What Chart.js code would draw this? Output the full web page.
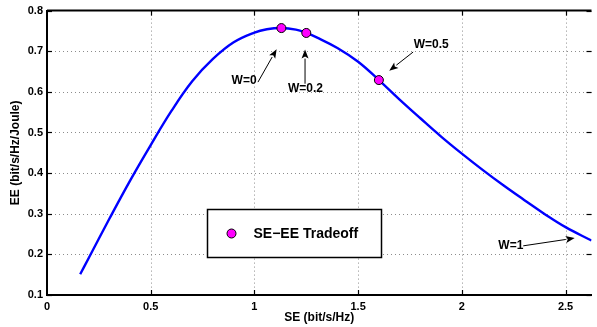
<!DOCTYPE html>
<html>
<head>
<meta charset="utf-8">
<script src="https://cdn.jsdelivr.net/npm/chart.js@4/dist/chart.umd.min.js"></script>
<style>
  html, body { margin: 0; padding: 0; background: #ffffff; }
  #wrap { width: 597px; height: 327px; }
</style>
</head>
<body>
<div id="wrap"><canvas id="c" width="597" height="327"></canvas></div>
<script>
// ---- data ----
const seValues = [0.16, 0.2, 0.3, 0.4, 0.5, 0.6, 0.7, 0.8, 0.9, 1.0, 1.06, 1.13, 1.2, 1.25, 1.3, 1.4, 1.5, 1.6, 1.7, 1.8, 1.9, 2.0, 2.1, 2.2, 2.3, 2.4, 2.5, 2.625];
const eeValues = [0.151, 0.190, 0.287, 0.381, 0.469, 0.553, 0.626, 0.681, 0.722, 0.746, 0.754, 0.757, 0.753, 0.745, 0.734, 0.708, 0.674, 0.629, 0.581, 0.535, 0.490, 0.448, 0.408, 0.370, 0.334, 0.299, 0.267, 0.234];
const tradeoffSE = [1.13, 1.25, 1.6];
const tradeoffEE = [0.757, 0.745, 0.629];
const legendLabel = 'SE\u2212EE Tradeoff';
const xTitle = 'SE (bit/s/Hz)';
const yTitle = 'EE (bit/s/Hz/Joule)';
// annotations (text and arrows, in data units)
const annLabels = ['W=0', 'W=0.2', 'W=0.5', 'W=1'];
const annTextX = [0.950, 1.246, 1.852, 2.236];
const annTextY = [0.627, 0.607, 0.716, 0.222];
const arrowFromX = [1.017, 1.244, 1.765, 2.296];
const arrowFromY = [0.624, 0.620, 0.698, 0.221];
const arrowToX = [1.107, 1.244, 1.650, 2.544];
const arrowToY = [0.705, 0.704, 0.652, 0.240];
// legend box corners (data units)
const legendBoxX = [0.773, 1.609];
const legendBoxY = [0.3117, 0.1943];

const FONT = "'Liberation Sans', Arial, Helvetica, sans-serif";

const curvePts = seValues.map((v, i) => ({ x: v, y: eeValues[i] }));
const tradePts = tradeoffSE.map((v, i) => ({ x: v, y: tradeoffEE[i] }));

function line(ctx, x1, y1, x2, y2) {
  ctx.beginPath(); ctx.moveTo(x1, y1); ctx.lineTo(x2, y2); ctx.stroke();
}

function arrow(ctx, x1, y1, x2, y2) {
  const ang = Math.atan2(y2 - y1, x2 - x1);
  const L = 9, W = 3.5;
  const bx = x2 - L * Math.cos(ang), by = y2 - L * Math.sin(ang);
  ctx.lineWidth = 1;
  line(ctx, x1, y1, bx, by);
  ctx.beginPath();
  ctx.moveTo(x2, y2);
  ctx.lineTo(bx + W * Math.sin(ang), by - W * Math.cos(ang));
  ctx.lineTo(bx + 2 * Math.cos(ang), by + 2 * Math.sin(ang));
  ctx.lineTo(bx - W * Math.sin(ang), by + W * Math.cos(ang));
  ctx.closePath();
  ctx.fill();
}

const matlabPlugin = {
  id: 'matlabLook',
  beforeDatasetsDraw(chart) {
    const { ctx, chartArea: a, scales: { x, y } } = chart;
    ctx.save();
    // dotted grid
    ctx.strokeStyle = '#8c8c8c';
    ctx.lineWidth = 1;
    ctx.setLineDash([1, 3]);
    x.ticks.forEach(t => {
      const px = Math.round(x.getPixelForValue(t.value)) + 0.5;
      if (px <= a.left + 2 || px >= a.right - 1) return;
      line(ctx, px, a.top, px, a.bottom);
    });
    y.ticks.forEach(t => {
      const py = Math.round(y.getPixelForValue(t.value)) + 0.5;
      if (py <= a.top + 2 || py >= a.bottom - 2) return;
      line(ctx, a.left, py, a.right, py);
    });
    ctx.setLineDash([]);
    // inward tick marks
    ctx.strokeStyle = '#000';
    ctx.lineWidth = 1.2;
    x.ticks.forEach(t => {
      const px = Math.round(x.getPixelForValue(t.value)) + 0.5;
      if (px <= a.left + 2) return;
      line(ctx, px, a.bottom, px, a.bottom - 5);
      line(ctx, px, a.top, px, a.top + 5);
    });
    y.ticks.forEach(t => {
      const py = Math.round(y.getPixelForValue(t.value)) + 0.5;
      line(ctx, a.left, py, a.left + 5, py);
      line(ctx, a.right, py, a.right - 5, py);
    });
    // top border
    ctx.lineWidth = 2;
    line(ctx, a.left, a.top, a.right, a.top);
    // axis titles
    ctx.fillStyle = '#000';
    ctx.font = 'bold 12px ' + FONT;
    ctx.textAlign = 'center';
    ctx.textBaseline = 'middle';
    ctx.fillText(xTitle, (a.left + a.right) / 2, 317.5);
    ctx.save();
    ctx.translate(16, (a.top + a.bottom) / 2);
    ctx.rotate(-Math.PI / 2);
    ctx.fillText(yTitle, 0, 0);
    ctx.restore();
    ctx.restore();
  },
  afterDatasetsDraw(chart) {
    const { ctx, scales: { x, y } } = chart;
    ctx.save();
    // annotations
    ctx.fillStyle = '#000';
    ctx.strokeStyle = '#000';
    ctx.font = 'bold 12px ' + FONT;
    ctx.textAlign = 'center';
    ctx.textBaseline = 'middle';
    annLabels.forEach((lab, i) => {
      ctx.fillText(lab, x.getPixelForValue(annTextX[i]), y.getPixelForValue(annTextY[i]));
      arrow(ctx,
        x.getPixelForValue(arrowFromX[i]), y.getPixelForValue(arrowFromY[i]),
        x.getPixelForValue(arrowToX[i]), y.getPixelForValue(arrowToY[i]));
    });
    // legend box
    const lx = Math.round(x.getPixelForValue(legendBoxX[0])) + 0.5;
    const rx = Math.round(x.getPixelForValue(legendBoxX[1])) + 0.5;
    const ty = Math.round(y.getPixelForValue(legendBoxY[0])) + 0.5;
    const by = Math.round(y.getPixelForValue(legendBoxY[1])) + 0.5;
    ctx.fillStyle = '#fff';
    ctx.fillRect(lx, ty, rx - lx, by - ty);
    ctx.lineWidth = 1.5;
    ctx.strokeRect(lx, ty, rx - lx, by - ty);
    const my = (ty + by) / 2;
    ctx.beginPath();
    ctx.arc(lx + 24, my, 4.5, 0, Math.PI * 2);
    ctx.fillStyle = '#ff00ff';
    ctx.fill();
    ctx.lineWidth = 1;
    ctx.stroke();
    ctx.fillStyle = '#000';
    ctx.font = 'bold 14px ' + FONT;
    ctx.textAlign = 'left';
    ctx.fillText(legendLabel, lx + 46, my + 0.5);
    ctx.restore();
  }
};

new Chart(document.getElementById('c'), {
  type: 'scatter',
  data: {
    datasets: [
      {
        label: 'curve',
        data: curvePts,
        showLine: true,
        borderColor: '#0000ff',
        borderWidth: 2.4,
        pointRadius: 0,
        pointHoverRadius: 0,
        tension: 0.4,
        fill: false,
        order: 2
      },
      {
        label: legendLabel,
        data: tradePts,
        showLine: false,
        pointRadius: 4.5,
        pointBackgroundColor: '#ff00ff',
        pointBorderColor: '#000000',
        pointBorderWidth: 1,
        order: 1
      }
    ]
  },
  options: {
    responsive: false,
    animation: false,
    events: [],
    layout: { padding: { top: 8, right: 0, left: 0, bottom: 0 } },
    plugins: { legend: { display: false }, tooltip: { enabled: false } },
    scales: {
      x: {
        type: 'linear',
        min: 0,
        max: 2.625,
        grid: { display: false, drawTicks: false },
        border: { display: true, color: '#000', width: 2 },
        ticks: {
          stepSize: 0.5,
          includeBounds: false,
          autoSkip: false,
          maxRotation: 0,
          padding: 5,
          color: '#000',
          font: { family: FONT, size: 11, weight: 'bold' },
          callback: v => String(Number(v.toFixed(1)))
        },
        afterFit: s => { s.height = 32; }
      },
      y: {
        type: 'linear',
        min: 0.1,
        max: 0.8,
        grid: { display: false, drawTicks: false },
        border: { display: true, color: '#000', width: 2 },
        ticks: {
          stepSize: 0.1,
          autoSkip: false,
          padding: 4,
          color: '#000',
          font: { family: FONT, size: 11, weight: 'bold' },
          callback: v => Number(v).toFixed(1)
        },
        afterFit: s => { s.width = 47; }
      }
    }
  },
  plugins: [matlabPlugin]
});
</script>
</body>
</html>
